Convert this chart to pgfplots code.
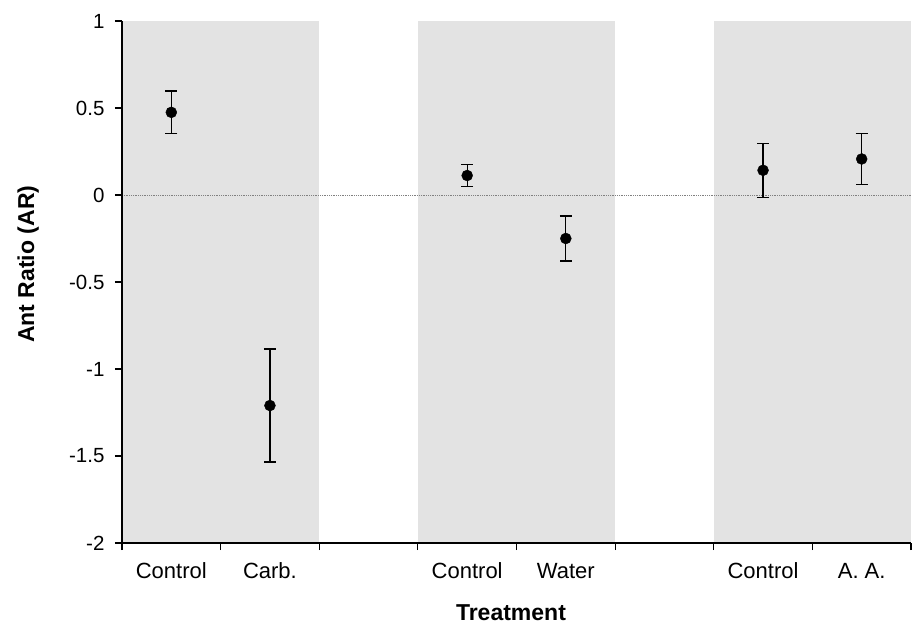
\documentclass[border=0pt]{standalone}
\usepackage{pgfplots}
\pgfplotsset{compat=1.18}
\usepackage{pgfplotstable}
\usepackage{fontspec}
\setmainfont{Liberation Sans}
\definecolor{shade}{RGB}{227,227,227}

% x = slot centre, y = mean ant ratio, e = error half-width
\pgfplotstableread{
x    y      e
0.5  0.475  0.122
1.5  -1.21  0.325
3.5  0.112  0.062
4.5  -0.25  0.130
6.5  0.142  0.155
7.5  0.207  0.147
}\ratios

\begin{document}
\begin{tikzpicture}
\begin{axis}[
  scale only axis,
  width=789pt, height=522pt,
  xmin=0, xmax=8, ymin=-2, ymax=1,
  axis on top,
  axis lines*=left,
  axis line style={line width=1.3pt, black},
  tick align=outside,
  major tick length=7pt,
  tick style={line width=1.1pt, black},
  xtick={0,...,8},
  xticklabels={},
  extra x ticks={0.5,1.5,3.5,4.5,6.5,7.5},
  extra x tick labels={Control,Carb.,Control,Water,Control,A. A.},
  extra x tick style={major tick length=0pt,
    tick label style={font=\fontsize{22}{25}\selectfont, anchor=base, yshift=-35pt}},
  ytick={-2,-1.5,-1,-0.5,0,0.5,1},
  yticklabels={-2,-1.5,-1,-0.5,0,0.5,1},
  yticklabel style={font=\fontsize{20.5}{23}\selectfont, xshift=-7pt},
  xlabel={\textbf{Treatment}},
  ylabel={\textbf{Ant Ratio (AR)}},
  xlabel style={at={(axis description cs:0.493,-0.1475)}, anchor=base, font=\fontsize{23}{26}\selectfont},
  ylabel style={at={(axis description cs:-0.119,0.534)}, anchor=center, font=\fontsize{23}{26}\selectfont},
  clip=false,
]
% shaded treatment groups
\addplot[fill=shade, draw=none] coordinates {(0,-2) (2,-2) (2,1) (0,1)} -- cycle;
\addplot[fill=shade, draw=none] coordinates {(3,-2) (5,-2) (5,1) (3,1)} -- cycle;
\addplot[fill=shade, draw=none] coordinates {(6,-2) (8,-2) (8,1) (6,1)} -- cycle;
% zero reference line
\addplot[gray, densely dotted, line width=0.8pt] coordinates {(0,0) (8,0)};
% means with error bars
\addplot[only marks, mark=*, mark size=5.5pt, black,
  error bars/.cd, y dir=both, y explicit,
  error bar style={line width=1.3pt, black},
  error mark options={rotate=90, mark size=6pt, line width=1.3pt, black}]
  table[x=x, y=y, y error=e] {\ratios};
\end{axis}
\pgfresetboundingbox
\path[use as bounding box] (-122pt,-83pt) rectangle (790pt,543pt);
\end{tikzpicture}
\end{document}
